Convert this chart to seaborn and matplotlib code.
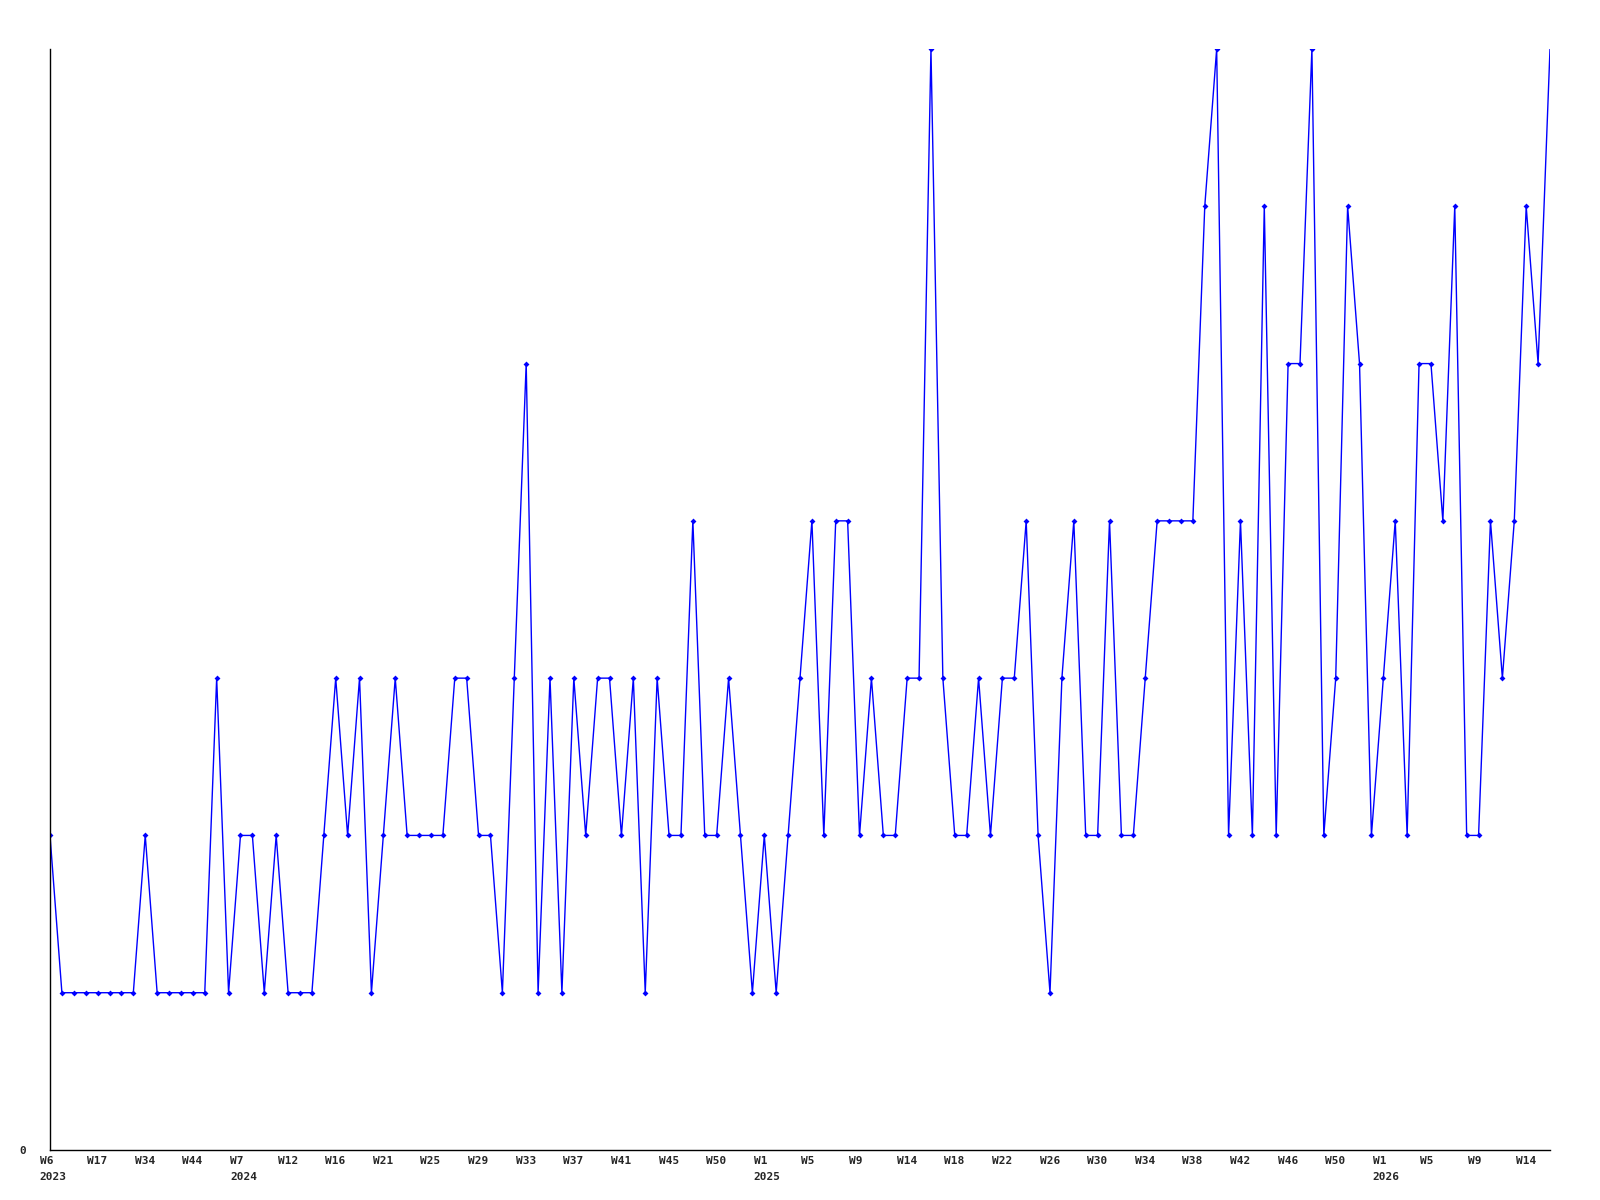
import matplotlib
matplotlib.use("Agg")
import matplotlib.pyplot as plt
import matplotlib.transforms as mtransforms
import numpy as np
import pandas as pd
import seaborn as sns

# weekly counts, one point per week that has data
values = [2, 1, 1, 1, 1, 1, 1, 1, 2, 1, 1, 1, 1, 1, 3, 1, 2, 2, 1, 2,
          1, 1, 1, 2, 3, 2, 3, 1, 2, 3, 2, 2, 2, 2, 3, 3, 2, 2, 1, 3,
          5, 1, 3, 1, 3, 2, 3, 3, 2, 3, 1, 3, 2, 2, 4, 2, 2, 3, 2, 1,
          2, 1, 2, 3, 4, 2, 4, 4, 2, 3, 2, 2, 3, 3, 7, 3, 2, 2, 3, 2,
          3, 3, 4, 2, 1, 3, 4, 2, 2, 4, 2, 2, 3, 4, 4, 4, 4, 6, 7, 2,
          4, 2, 6, 2, 5, 5, 7, 2, 3, 6, 5, 2, 3, 4, 2, 5, 5, 4, 6, 2,
          2, 4, 3, 4, 6, 5, 7]

# tick labels shown on every 4th point
tick_labels = ["W6\n2023", "W17", "W34", "W44", "W7\n2024", "W12", "W16", "W21",
               "W25", "W29", "W33", "W37", "W41", "W45", "W50", "W1\n2025",
               "W5", "W9", "W14", "W18", "W22", "W26", "W30", "W34",
               "W38", "W42", "W46", "W50", "W1\n2026", "W5", "W9", "W14"]

df = pd.DataFrame({"idx": np.arange(len(values)), "count": values})

sns.set_style("white")
plt.rcParams["font.family"] = ["DejaVu Sans Mono", "DejaVu Sans"]

fig = plt.figure(figsize=(16, 12), dpi=100)
ax = fig.add_axes([50 / 1600, 1 - 1150 / 1200, 1500 / 1600, 1101 / 1200])

# last (current) week is drawn without a marker
sns.lineplot(data=df, x="idx", y="count", ax=ax, color="#0000ff",
             linewidth=1, marker="D", markersize=3, markeredgewidth=0,
             markevery=list(range(len(values) - 1)))

ax.set_xlim(0, len(values) - 1)
ax.set_ylim(0, 7)
ax.set_xlabel("")
ax.set_ylabel("")

for side in ["top", "right"]:
    ax.spines[side].set_visible(False)
for side in ["left", "bottom"]:
    ax.spines[side].set_color("black")
    ax.spines[side].set_linewidth(1)

ax.set_yticks([0], ["0"])
ax.tick_params(axis="y", length=0, pad=17, labelsize=8)

ax.set_xticks(np.arange(0, len(values), 4), tick_labels)
ax.tick_params(axis="x", length=0, pad=4, labelsize=8)
offset = mtransforms.ScaledTranslation(-0.105, 0, fig.dpi_scale_trans)
for lbl in ax.get_xticklabels():
    lbl.set_horizontalalignment("left")
    lbl.set_multialignment("left")
    lbl.set_linespacing(1.85)
    lbl.set_fontweight("bold")
    lbl.set_transform(lbl.get_transform() + offset)
for lbl in ax.get_yticklabels():
    lbl.set_fontweight("bold")

fig.savefig("out.png", dpi=100, facecolor="white")
